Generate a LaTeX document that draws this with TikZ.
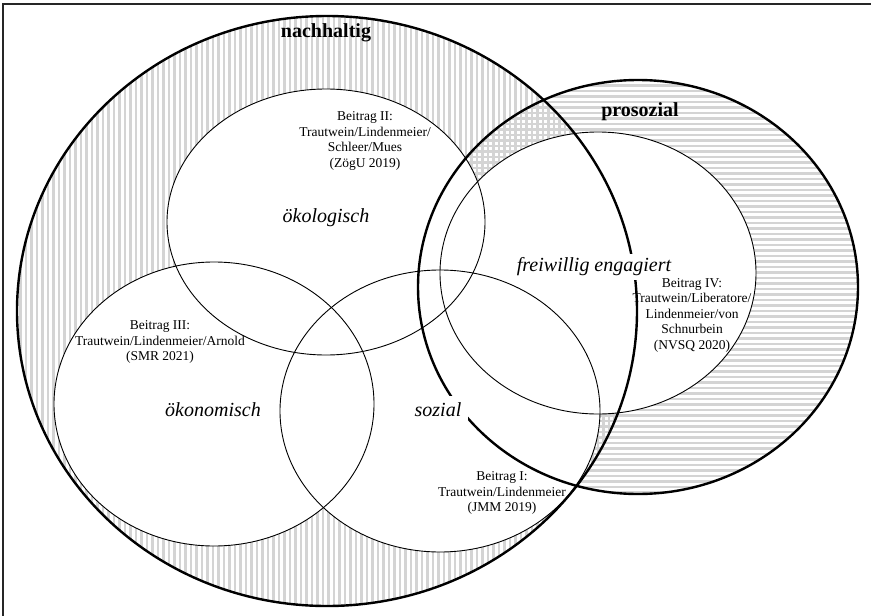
\documentclass[tikz,border=0pt]{standalone}
\usepackage{fontspec}
\setmainfont{Liberation Serif}
\begin{document}
\begin{tikzpicture}[x=1pt,y=-1pt,
    beitrag/.style={align=center,font=\fontsize{13.5}{15.5}\selectfont,inner sep=1pt},
    feld/.style={font=\fontsize{20}{24}\selectfont\itshape,inner sep=1pt},
    titel/.style={font=\fontsize{20}{24}\selectfont\bfseries,inner sep=1pt},
    streifen/.style={draw=black!17,line width=2.6pt},
    dick/.style={line width=2.4pt},
    duenn/.style={line width=0.9pt}]
  \useasboundingbox (0,0) rectangle (871,616);
  \draw[line width=1.2pt,black!85] (3,616) -- (3,4) -- (871,4);
  % Schraffur
  \begin{scope}
    \clip (327,311) ellipse (310pt and 295pt);
    \foreach \x in {15,20.5,...,640} \draw[streifen] (\x,10) -- (\x,610);
  \end{scope}
  \begin{scope}
    \clip (638,287) ellipse (220pt and 207pt);
    \foreach \y in {80,85.5,...,500} \draw[streifen] (410,\y) -- (865,\y);
  \end{scope}
  \fill[white] (326,222) ellipse (159pt and 133pt) (214,404) ellipse (160pt and 142pt)
    (440,411) ellipse (160pt and 141pt) (598,273) ellipse (158pt and 141pt);
  % Kreise
  \draw[dick] (327,311) ellipse (310pt and 295pt);
  \draw[dick] (638,287) ellipse (220pt and 207pt);
  \draw[duenn] (326,222) ellipse (159pt and 133pt); \draw[duenn] (214,404)
  ellipse (160pt and 142pt); \draw[duenn] (440,411) ellipse (160pt and
  141pt); \draw[duenn] (598,273) ellipse (158pt and 141pt);
  % Beschriftung
  \node[titel] (nachhaltig) at (326,33) {nachhaltig};
  \node[titel] (prosozial) at (640,112) {prosozial};
  \node[feld] (oekologisch) at (326,218) {ökologisch};
  \node[feld] (oekonomisch) at (213,410) {ökonomisch};
  \node[feld,fill=white,inner sep=7pt] (sozial) at (438,410) {sozial};
  \node[feld,fill=white,inner sep=4pt] (freiwillig) at (594,267) {freiwillig engagiert};
  \node[beitrag] (beitragII) at (365,141) {Beitrag II:\\Trautwein/Lindenmeier/\\Schleer/Mues\\(ZögU 2019)};
  \node[beitrag] (beitragIII) at (160,342) {Beitrag III:\\Trautwein/Lindenmeier/Arnold\\(SMR 2021)};
  \node[beitrag] (beitragI) at (502,493) {Beitrag I:\\Trautwein/Lindenmeier\\(JMM 2019)};
  \node[beitrag] (beitragIV) at (692,315) {Beitrag IV:\\Trautwein/Liberatore/\\Lindenmeier/von\\Schnurbein\\(NVSQ 2020)};
\end{tikzpicture}
\end{document}
